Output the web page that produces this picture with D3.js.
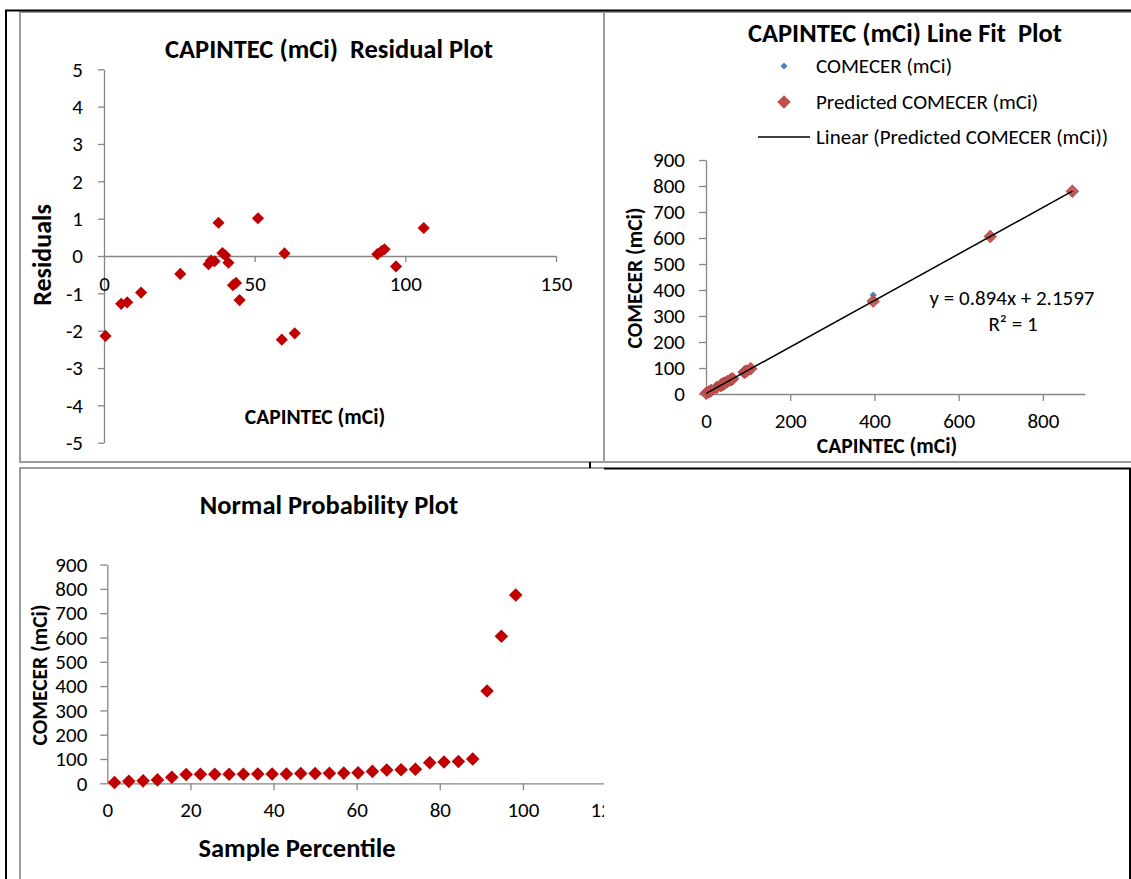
<!DOCTYPE html>
<html>
<head>
<meta charset="utf-8">
<script src="https://cdn.jsdelivr.net/npm/d3@7"></script>
<style>
body { margin: 0; background: #fff; }
svg { display: block; font-family: Carlito, Lato, sans-serif; }
.axis path, .axis line { stroke: #868686; stroke-width: 1.3; }
.axis text { fill: #000; font-size: 21px; font-family: Carlito, Lato, sans-serif; }
.ttl { font-weight: bold; fill: #000; }
</style>
</head>
<body>
<svg id="chart" width="1131" height="879"></svg>
<script>
// regression output
const capintec  = [0.5, 5.7, 7.7, 12.3, 25.3, 34.7, 35.5, 36.7, 38.0, 39.3, 40.2, 41.3, 42.8, 43.8, 45.0, 51.1, 59.0, 59.9, 63.3, 90.7, 92.1, 93.1, 96.9, 106.1, 397, 675, 870];
const residuals = [-2.14, -1.28, -1.24, -0.98, -0.48, -0.22, -0.12, -0.14, 0.89, 0.08, 0.02, -0.18, -0.78, -0.72, -1.18, 1.01, -2.24, 0.07, -2.07, 0.05, 0.13, 0.18, -0.28, 0.75, 23.5, 0.4, -5.2];
const predicted = [2.6, 7.3, 9.0, 13.2, 24.8, 33.2, 33.9, 35.0, 36.1, 37.3, 38.1, 39.1, 40.4, 41.3, 42.4, 47.8, 54.9, 55.7, 58.8, 83.2, 84.5, 85.4, 88.8, 97.0, 357.1, 605.6, 780.0];
const comecer   = [0.5, 6.0, 7.8, 12.2, 24.3, 33.0, 33.8, 34.9, 37.0, 37.4, 38.1, 38.9, 39.6, 40.6, 41.2, 48.8, 52.7, 55.8, 56.7, 83.3, 84.6, 85.6, 88.5, 97.8, 380.6, 606.0, 774.8];

const percentile = [1.72, 5.17, 8.62, 12.07, 15.52, 18.97, 22.41, 25.86, 29.31, 32.76, 36.21, 39.66, 43.10, 46.55, 50.00, 53.45, 56.90, 60.34, 63.79, 67.24, 70.69, 74.14, 77.59, 81.03, 84.48, 87.93, 91.38, 94.83, 98.28];
const sortedComecer = [3, 8, 10, 14, 25, 36, 37, 37, 37, 37, 38, 38, 38, 40, 40, 41, 42, 43, 49, 55, 56, 58, 85, 88, 90, 100, 380, 605, 775];

const slope = 0.894, intercept = 2.1597;

const residTicksY = d3.range(-5, 6, 1);
const residTicksX = [0, 50, 100, 150];
const fitTicks = [0, 100, 200, 300, 400, 500, 600, 700, 800, 900];
const fitTicksX = [0, 200, 400, 600, 800];
const normTicksX = [0, 20, 40, 60, 80, 100, 120];

const svg = d3.select("#chart");
const gray = "#9c9c9c";
const plain = d => String(d); // excel shows a hyphen, not d3's unicode minus

// panel frames
svg.append("rect").attr("x", 20).attr("y", 12).attr("width", 584).attr("height", 450)
  .attr("fill", "none").attr("stroke", gray).attr("stroke-width", 2);
svg.append("path").attr("d", "M604,12H1133M604,462H1133").attr("stroke", gray).attr("stroke-width", 2);
svg.append("path").attr("d", "M20,881V468H604").attr("fill", "none").attr("stroke", gray).attr("stroke-width", 2);
// outer black cell borders
svg.append("path").attr("d", "M5,10.5H1131M6,10V879M604,468.5H1131M1130,468V879M590,462V468")
  .attr("fill", "none").attr("stroke", "#000").attr("stroke-width", 2);

function diamond(sel, size, fill, stroke) {
  sel.attr("d", d3.symbol().type(d3.symbolSquare).size(size)())
    .attr("fill", fill).attr("stroke", stroke || "none");
}

// ---------- Residual plot ----------
const rx = d3.scaleLinear().domain([0, 150]).range([104, 556]);
const ry = d3.scaleLinear().domain([-5, 5]).range([442.7, 69.3]);

svg.append("g").attr("class", "axis")
  .attr("transform", "translate(104,0)")
  .call(d3.axisLeft(ry).tickValues(residTicksY).tickFormat(plain).tickSize(6).tickSizeOuter(0).tickPadding(15));

svg.append("g").attr("class", "axis")
  .attr("transform", `translate(0,${ry(0)})`)
  .call(d3.axisBottom(rx).tickValues(residTicksX).tickFormat(plain).tickSize(6).tickSizeOuter(0).tickPadding(14))
  .call(g => g.selectAll(".tick line").filter(d => d === 0).remove());

const residPts = capintec.map((x, i) => ({ x: x, y: residuals[i] }))
  .filter(d => d.x <= 150 && d.y >= -5 && d.y <= 5);

svg.append("g").selectAll("path").data(residPts).enter().append("path")
  .call(diamond, 74, "#c00000")
  .attr("transform", d => `translate(${rx(d.x)},${ry(d.y)}) rotate(45)`);

svg.append("text").attr("class", "ttl").attr("x", 329).attr("y", 57.5)
  .attr("text-anchor", "middle").style("font-size", "26.5px")
  .attr("xml:space", "preserve").text("CAPINTEC (mCi)  Residual Plot");
svg.append("text").attr("class", "ttl")
  .attr("transform", "translate(51,255) rotate(-90)")
  .attr("text-anchor", "middle").style("font-size", "26px").text("Residuals");
svg.append("text").attr("class", "ttl").attr("x", 315).attr("y", 424)
  .attr("text-anchor", "middle").style("font-size", "21.5px").text("CAPINTEC (mCi)");

// ---------- Line fit plot ----------
const fx = d3.scaleLinear().domain([0, 900]).range([706, 1085]);
const fy = d3.scaleLinear().domain([0, 900]).range([394, 160]);

svg.append("g").attr("class", "axis")
  .attr("transform", "translate(706,0)")
  .call(d3.axisLeft(fy).tickValues(fitTicks).tickSize(7).tickSizeOuter(0).tickPadding(14));
svg.append("g").attr("class", "axis")
  .attr("transform", "translate(0,394)")
  .call(d3.axisBottom(fx).tickValues(fitTicksX).tickSize(7).tickSizeOuter(0).tickPadding(12))
  .call(g => g.selectAll(".tick line").filter(d => d === 0).remove());

svg.append("g").selectAll("path").data(comecer).enter().append("path")
  .call(diamond, 26, "#4f81bd")
  .attr("transform", (d, i) => `translate(${fx(capintec[i])},${fy(d)}) rotate(45)`);

svg.append("g").selectAll("path").data(predicted).enter().append("path")
  .call(diamond, 72, "#c0504d", "#b84a47")
  .attr("fill-opacity", 0.9)
  .attr("transform", (d, i) => `translate(${fx(capintec[i])},${fy(d)}) rotate(45)`);

const xMin = d3.min(capintec), xMax = d3.max(capintec);
svg.append("line")
  .attr("x1", fx(xMin)).attr("y1", fy(slope * xMin + intercept))
  .attr("x2", fx(xMax)).attr("y2", fy(slope * xMax + intercept))
  .attr("stroke", "#000").attr("stroke-width", 1.5);

svg.append("text").attr("class", "ttl").attr("x", 905).attr("y", 41.5)
  .attr("text-anchor", "middle").style("font-size", "26.5px")
  .attr("xml:space", "preserve").text("CAPINTEC (mCi) Line Fit  Plot");

// legend
const legend = svg.append("g").style("font-size", "21px");
legend.append("path").call(diamond, 26, "#4f81bd").attr("transform", "translate(784,66) rotate(45)");
legend.append("path").call(diamond, 72, "#c0504d", "#b84a47").attr("transform", "translate(784,102) rotate(45)");
legend.append("line").attr("x1", 758).attr("x2", 810).attr("y1", 137).attr("y2", 137)
  .attr("stroke", "#000").attr("stroke-width", 1.5);
legend.selectAll("text").data(["COMECER (mCi)", "Predicted COMECER (mCi)", "Linear (Predicted COMECER (mCi))"])
  .enter().append("text").attr("x", 816).attr("y", (d, i) => [66, 102, 137][i])
  .attr("dy", "0.32em").text(d => d);

svg.append("text").attr("x", 1012).attr("y", 304.5).attr("text-anchor", "middle")
  .style("font-size", "21px").text("y = 0.894x + 2.1597");
svg.append("text").attr("x", 1013).attr("y", 331).attr("text-anchor", "middle")
  .style("font-size", "21px").text("R² = 1");

svg.append("text").attr("class", "ttl")
  .attr("transform", "translate(642,278) rotate(-90)")
  .attr("text-anchor", "middle").style("font-size", "21.5px").text("COMECER (mCi)");
svg.append("text").attr("class", "ttl").attr("x", 887).attr("y", 453)
  .attr("text-anchor", "middle").style("font-size", "21.5px").text("CAPINTEC (mCi)");

// ---------- Normal probability plot ----------
const clip = svg.append("clipPath").attr("id", "clipC");
clip.append("rect").attr("x", 0).attr("y", 469).attr("width", 604).attr("height", 420);
const pc = svg.append("g").attr("clip-path", "url(#clipC)");

const nx = d3.scaleLinear().domain([0, 120]).range([107.3, 606]);
const ny = d3.scaleLinear().domain([0, 900]).range([783.3, 564.6]);

pc.append("g").attr("class", "axis")
  .attr("transform", "translate(107.3,0)")
  .call(d3.axisLeft(ny).tickValues(fitTicks).tickSize(7).tickSizeOuter(0).tickPadding(13));
pc.append("g").attr("class", "axis")
  .attr("transform", "translate(0,783.3)")
  .call(d3.axisBottom(nx).tickValues(normTicksX).tickSize(7).tickSizeOuter(0).tickPadding(12))
  .call(g => g.selectAll(".tick line").filter(d => d === 0).remove());

pc.append("g").selectAll("path").data(sortedComecer).enter().append("path")
  .call(diamond, 92, "#c00000")
  .attr("transform", (d, i) => `translate(${nx(percentile[i])},${ny(d)}) rotate(45)`);

svg.append("text").attr("class", "ttl").attr("x", 329).attr("y", 514)
  .attr("text-anchor", "middle").style("font-size", "26.5px").text("Normal Probability Plot");
svg.append("text").attr("class", "ttl")
  .attr("transform", "translate(47,675) rotate(-90)")
  .attr("text-anchor", "middle").style("font-size", "21.5px").text("COMECER (mCi)");
svg.append("text").attr("class", "ttl").attr("x", 297).attr("y", 857)
  .attr("text-anchor", "middle").style("font-size", "26.5px").text("Sample Percentile");
</script>
</body>
</html>
